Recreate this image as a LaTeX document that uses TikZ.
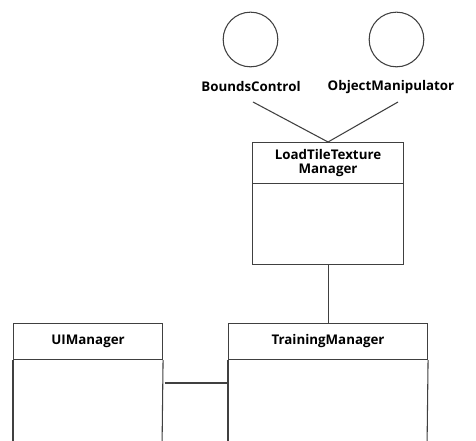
\documentclass[tikz,border=0pt]{standalone}
\usepackage{fontspec}
\setmainfont{Open Sans}
\begin{document}
\begin{tikzpicture}[x=0.75pt,y=-0.75pt,
  line/.style={draw=black!75,line width=0.8pt},
  iface/.style={circle,line,minimum size=41pt,inner sep=0pt},
  lbl/.style={font=\bfseries\fontsize{10}{12}\selectfont,inner sep=1pt},
  head/.style={line,rectangle,inner sep=0pt,align=center,
    font=\bfseries\fontsize{10}{12}\selectfont},
]
\useasboundingbox (0,0) rectangle (476,441);
\clip (0,0) rectangle (476,441);

% lollipop interfaces
\node[iface] (bc) at (250.5,39.5) {};
\node[iface] (om) at (396.5,39.5) {};
\node[lbl] (bcl) at (251,87) {BoundsControl};
\node[lbl] (oml) at (391,87) {ObjectManipulator};

% LoadTileTexture Manager class
\node[head,minimum width=113.25pt,minimum height=30.75pt,anchor=north west]
  (ltt) at (252,142) {LoadTileTexture\\[-2pt]Manager};
\node[line,rectangle,minimum width=113.25pt,minimum height=60.75pt,anchor=north west]
  (lttb) at (252,183) {};

% UIManager class (body runs past the lower edge)
\node[head,minimum width=111.75pt,minimum height=27pt,anchor=north west]
  (uim) at (13,323) {UIManager};
\coordinate (uimb) at (162,383);
\draw[line] (uim.south west) -- (13,450);
\draw[line] (uim.south east) -- (162,450);

% TrainingManager class
\node[head,minimum width=149.25pt,minimum height=27pt,anchor=north west]
  (tm) at (228,323) {TrainingManager};
\coordinate (tmb) at (228,383);
\draw[line] (tm.south west) -- (228,450);
\draw[line] (tm.south east) -- (427,450);

% connectors
\coordinate (bcend) at (253,102);
\coordinate (omend) at (398,102);
\draw[line] (bcend) -- (ltt.north);
\draw[line] (omend) -- (ltt.north);
\draw[line] (lttb.south) -- (tm.north -| lttb.south);
\draw[line] ([xshift=2]uimb) -- (tmb);
\end{tikzpicture}
\end{document}
